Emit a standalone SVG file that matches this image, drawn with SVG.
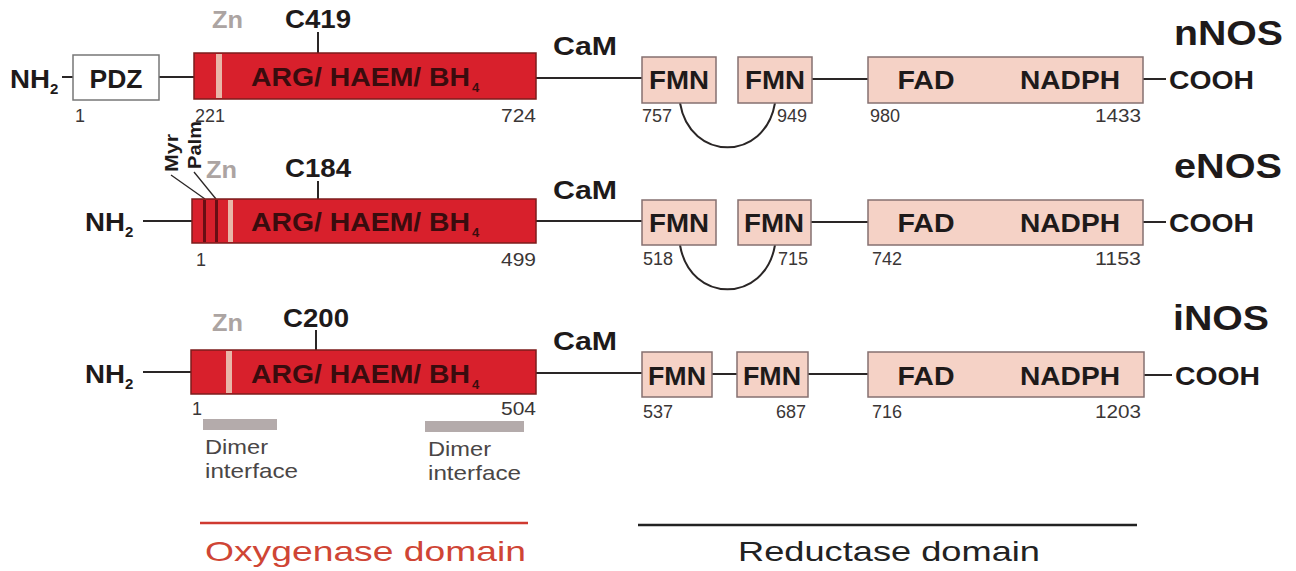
<svg xmlns="http://www.w3.org/2000/svg" width="1296" height="571" viewBox="0 0 1296 571">
<style>
text{font-family:"Liberation Sans",Arial,sans-serif;}
.b{font-weight:bold;fill:#1e1a1a;}
.lbl{font-size:25px;font-weight:bold;fill:#1e1a1a;}
.sub{font-size:15px;font-weight:bold;fill:#1e1a1a;}
.num{font-size:18px;fill:#3a3636;}
.zn{font-size:23px;font-weight:bold;fill:#aca4a2;}
.title{font-size:35px;font-weight:bold;fill:#1e1a1a;}
.arg{font-size:25px;font-weight:bold;fill:#3a0c0e;}
.argsub{font-size:13px;font-weight:bold;fill:#3a0c0e;}
.red{fill:#d8202c;stroke:#7c1c1c;stroke-width:1.5;}
.pink{fill:#f5d2c6;stroke:#857070;stroke-width:1.5;}
.pdz{fill:#ffffff;stroke:#777;stroke-width:1.5;}
.zs{fill:#e9b6a8;}
.ds{fill:#6a0e14;}
.ln{stroke:#2a2626;stroke-width:2;fill:none;}
.tick{stroke:#2a2626;stroke-width:2;}
.dim{fill:#b4abab;}
.dimt{font-size:21px;fill:#4a4646;}
</style>

<g id="connectors">
  <!-- nNOS -->
  <line class="ln" x1="62" y1="77" x2="73" y2="77"/>
  <line class="ln" x1="159" y1="77" x2="194" y2="77"/>
  <line class="ln" x1="536" y1="78" x2="642" y2="78"/>
  <line class="ln" x1="812" y1="79" x2="868" y2="79"/>
  <line class="ln" x1="1143" y1="79" x2="1166" y2="79"/>
  <path class="ln" d="M680,103 C690,162 765,162 775,103"/>
  <line class="tick" x1="318" y1="32" x2="318" y2="53"/>
  <!-- eNOS -->
  <line class="ln" x1="143" y1="221" x2="192" y2="221"/>
  <line class="ln" x1="536" y1="221" x2="642" y2="221"/>
  <line class="ln" x1="811" y1="222" x2="868" y2="222"/>
  <line class="ln" x1="1143" y1="222" x2="1166" y2="222"/>
  <path class="ln" d="M680,245 C690,304 765,304 775,245"/>
  <line class="tick" x1="318" y1="181" x2="318" y2="199"/>
  <line stroke="#2a2626" stroke-width="1.3" x1="171" y1="175" x2="205" y2="199"/>
  <line stroke="#2a2626" stroke-width="1.3" x1="194" y1="172" x2="216" y2="199"/>
  <!-- iNOS -->
  <line class="ln" x1="143" y1="372" x2="191" y2="372"/>
  <line class="ln" x1="536" y1="373" x2="642" y2="373"/>
  <line class="ln" x1="712" y1="374" x2="737" y2="374"/>
  <line class="ln" x1="808" y1="374" x2="868" y2="374"/>
  <line class="ln" x1="1144" y1="375" x2="1172" y2="375"/>
  <line class="tick" x1="316" y1="330" x2="316" y2="350"/>
</g>

<!-- nNOS -->
<g id="nNOS">
  <text class="title" x="1174" y="45" textLength="109" lengthAdjust="spacingAndGlyphs">nNOS</text>
  <text class="lbl" x="10" y="88" textLength="40" lengthAdjust="spacingAndGlyphs">NH</text><text class="sub" x="50" y="94">2</text>
  <g id="nNOS-PDZ"><rect class="pdz" x="73" y="55" width="86" height="45"/><text class="lbl" x="116" y="88" text-anchor="middle" textLength="53" lengthAdjust="spacingAndGlyphs">PDZ</text></g>
  <g id="nNOS-oxy">
    <rect class="red" x="194" y="53" width="342" height="46"/>
    <rect class="zs" x="216" y="54" width="6" height="44"/>
    <text class="arg" x="251" y="86" textLength="219" lengthAdjust="spacingAndGlyphs">ARG/ HAEM/ BH</text><text class="argsub" x="472" y="92">4</text>
  </g>
  <text class="zn" x="212" y="28" textLength="31" lengthAdjust="spacingAndGlyphs">Zn</text>
  <text class="lbl" x="318" y="28" text-anchor="middle" textLength="66" lengthAdjust="spacingAndGlyphs">C419</text>
  <text class="num" x="75" y="122">1</text>
  <text class="num" x="195" y="122">221</text>
  <text class="num" x="536" y="122" text-anchor="end" textLength="35" lengthAdjust="spacingAndGlyphs">724</text>
  <text class="lbl" x="553" y="55" textLength="64" lengthAdjust="spacingAndGlyphs">CaM</text>
  <g id="nNOS-FMN1"><rect class="pink" x="642" y="57" width="74" height="46"/><text class="lbl" x="679" y="89" text-anchor="middle" textLength="60" lengthAdjust="spacingAndGlyphs">FMN</text></g>
  <g id="nNOS-FMN2"><rect class="pink" x="738" y="57" width="74" height="46"/><text class="lbl" x="775" y="89" text-anchor="middle" textLength="60" lengthAdjust="spacingAndGlyphs">FMN</text></g>
  <g id="nNOS-FAD"><rect class="pink" x="868" y="57" width="275" height="46"/><text class="lbl" x="926" y="89" text-anchor="middle" textLength="57" lengthAdjust="spacingAndGlyphs">FAD</text><text class="lbl" x="1070" y="89" text-anchor="middle" textLength="100" lengthAdjust="spacingAndGlyphs">NADPH</text></g>
  <text class="num" x="642" y="122">757</text>
  <text class="num" x="777" y="122">949</text>
  <text class="num" x="870" y="122">980</text>
  <text class="num" x="1141" y="122" text-anchor="end" textLength="46" lengthAdjust="spacingAndGlyphs">1433</text>
  <text class="lbl" x="1169" y="89" textLength="85" lengthAdjust="spacingAndGlyphs">COOH</text>
</g>

<!-- eNOS -->
<g id="eNOS">
  <text class="title" x="1174" y="178" textLength="108" lengthAdjust="spacingAndGlyphs">eNOS</text>
  <text class="lbl" x="85" y="231" textLength="40" lengthAdjust="spacingAndGlyphs">NH</text><text class="sub" x="125" y="237">2</text>
  <g id="eNOS-oxy">
    <rect class="red" x="192" y="199" width="344" height="44"/>
    <rect class="ds" x="203" y="200" width="3" height="42"/>
    <rect class="ds" x="215" y="200" width="3" height="42"/>
    <rect class="zs" x="228" y="200" width="5" height="42"/>
    <text class="arg" x="251" y="231" textLength="219" lengthAdjust="spacingAndGlyphs">ARG/ HAEM/ BH</text><text class="argsub" x="472" y="237">4</text>
  </g>
  <text class="b" font-size="19" transform="translate(178,172) rotate(-90)" textLength="38" lengthAdjust="spacingAndGlyphs">Myr</text>
  <text class="b" font-size="19" transform="translate(201,169) rotate(-90)" textLength="48" lengthAdjust="spacingAndGlyphs">Palm</text>
  <text class="zn" x="206" y="178" textLength="31" lengthAdjust="spacingAndGlyphs">Zn</text>
  <text class="lbl" x="318" y="177" text-anchor="middle" textLength="66" lengthAdjust="spacingAndGlyphs">C184</text>
  <text class="num" x="196" y="266">1</text>
  <text class="num" x="536" y="266" text-anchor="end" textLength="35" lengthAdjust="spacingAndGlyphs">499</text>
  <text class="lbl" x="553" y="199" textLength="64" lengthAdjust="spacingAndGlyphs">CaM</text>
  <g id="eNOS-FMN1"><rect class="pink" x="642" y="200" width="74" height="45"/><text class="lbl" x="679" y="232" text-anchor="middle" textLength="60" lengthAdjust="spacingAndGlyphs">FMN</text></g>
  <g id="eNOS-FMN2"><rect class="pink" x="738" y="200" width="73" height="45"/><text class="lbl" x="774" y="232" text-anchor="middle" textLength="60" lengthAdjust="spacingAndGlyphs">FMN</text></g>
  <g id="eNOS-FAD"><rect class="pink" x="868" y="200" width="275" height="45"/><text class="lbl" x="926" y="232" text-anchor="middle" textLength="57" lengthAdjust="spacingAndGlyphs">FAD</text><text class="lbl" x="1070" y="232" text-anchor="middle" textLength="100" lengthAdjust="spacingAndGlyphs">NADPH</text></g>
  <text class="num" x="643" y="265">518</text>
  <text class="num" x="778" y="265">715</text>
  <text class="num" x="872" y="265">742</text>
  <text class="num" x="1141" y="265" text-anchor="end" textLength="46" lengthAdjust="spacingAndGlyphs">1153</text>
  <text class="lbl" x="1169" y="232" textLength="85" lengthAdjust="spacingAndGlyphs">COOH</text>
</g>

<!-- iNOS -->
<g id="iNOS">
  <text class="title" x="1173" y="330" textLength="96" lengthAdjust="spacingAndGlyphs">iNOS</text>
  <text class="lbl" x="85" y="383" textLength="40" lengthAdjust="spacingAndGlyphs">NH</text><text class="sub" x="125" y="389">2</text>
  <g id="iNOS-oxy">
    <rect class="red" x="191" y="350" width="345" height="44"/>
    <rect class="zs" x="226" y="351" width="6" height="42"/>
    <text class="arg" x="251" y="383" textLength="219" lengthAdjust="spacingAndGlyphs">ARG/ HAEM/ BH</text><text class="argsub" x="472" y="389">4</text>
  </g>
  <text class="zn" x="212" y="331" textLength="31" lengthAdjust="spacingAndGlyphs">Zn</text>
  <text class="lbl" x="316" y="327" text-anchor="middle" textLength="66" lengthAdjust="spacingAndGlyphs">C200</text>
  <text class="num" x="192" y="415">1</text>
  <text class="num" x="536" y="415" text-anchor="end" textLength="35" lengthAdjust="spacingAndGlyphs">504</text>
  <g id="dimer1"><rect class="dim" x="203" y="419" width="74" height="11"/><text class="dimt" x="205" y="454" textLength="63" lengthAdjust="spacingAndGlyphs">Dimer</text><text class="dimt" x="205" y="478" textLength="93" lengthAdjust="spacingAndGlyphs">interface</text></g>
  <g id="dimer2"><rect class="dim" x="425" y="421" width="99" height="11"/><text class="dimt" x="428" y="456" textLength="63" lengthAdjust="spacingAndGlyphs">Dimer</text><text class="dimt" x="428" y="480" textLength="93" lengthAdjust="spacingAndGlyphs">interface</text></g>
  <text class="lbl" x="553" y="350" textLength="64" lengthAdjust="spacingAndGlyphs">CaM</text>
  <g id="iNOS-FMN1"><rect class="pink" x="642" y="352" width="70" height="45"/><text class="lbl" x="677" y="385" text-anchor="middle" textLength="58" lengthAdjust="spacingAndGlyphs">FMN</text></g>
  <g id="iNOS-FMN2"><rect class="pink" x="737" y="352" width="71" height="45"/><text class="lbl" x="772" y="385" text-anchor="middle" textLength="58" lengthAdjust="spacingAndGlyphs">FMN</text></g>
  <g id="iNOS-FAD"><rect class="pink" x="868" y="352" width="276" height="45"/><text class="lbl" x="926" y="385" text-anchor="middle" textLength="57" lengthAdjust="spacingAndGlyphs">FAD</text><text class="lbl" x="1070" y="385" text-anchor="middle" textLength="100" lengthAdjust="spacingAndGlyphs">NADPH</text></g>
  <text class="num" x="643" y="418">537</text>
  <text class="num" x="806" y="418" text-anchor="end">687</text>
  <text class="num" x="872" y="418">716</text>
  <text class="num" x="1141" y="418" text-anchor="end" textLength="46" lengthAdjust="spacingAndGlyphs">1203</text>
  <text class="lbl" x="1175" y="385" textLength="85" lengthAdjust="spacingAndGlyphs">COOH</text>
</g>

<g id="legend">
  <line x1="200" y1="523" x2="528" y2="523" stroke="#cf3a30" stroke-width="2.5"/>
  <text x="205" y="561" font-size="28" fill="#cf4535" textLength="321" lengthAdjust="spacingAndGlyphs">Oxygenase domain</text>
  <line x1="638" y1="525" x2="1137" y2="525" stroke="#222" stroke-width="2.5"/>
  <text x="738" y="561" font-size="28" fill="#222" textLength="302" lengthAdjust="spacingAndGlyphs">Reductase domain</text>
</g>
</svg>
